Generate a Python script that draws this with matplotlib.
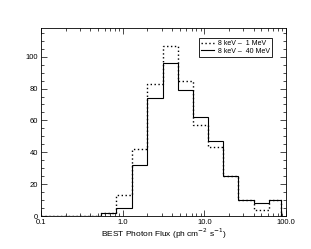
import numpy as np
from matplotlib import pyplot as plt
from matplotlib.ticker import MultipleLocator, LogLocator, NullFormatter

plt.rcParams['font.family'] = ['Liberation Sans', 'DejaVu Sans']

# bin edges (log spaced) and counts
edges = [0.1, 0.55, 0.84, 1.31, 2.0, 3.1, 4.75, 7.3, 11.2, 17.0, 26.0, 40.5, 62.0, 88.0]
low_band = [0, 2, 13, 42, 83, 107, 85, 57, 43, 25, 10, 4, 10]    # 8 keV - 1 MeV
full_band = [0, 2, 5, 32, 74, 96, 79, 62, 47, 25, 10, 8, 10]     # 8 keV - 40 MeV

fig = plt.figure(figsize=(3.11, 2.49), dpi=100)
ax = fig.add_axes([41 / 311, 1 - 216 / 249, 245 / 311, 188 / 249])

ax.stairs(low_band, edges, color='black', linestyle=(0, (1, 1.8)), linewidth=1.0,
          label='8 keV \u2013  1 MeV')
ax.stairs(full_band, edges, color='black', linestyle='-', linewidth=0.8,
          label='8 keV \u2013  40 MeV')

ax.set_xscale('log')
ax.set_xlim(0.1, 100)
ax.set_ylim(0, 118)
ax.set_xticks([0.1, 1, 10, 100])
ax.set_xticklabels(['0.1', '1.0', '10.0', '100.0'])
ax.xaxis.set_minor_locator(LogLocator(base=10, subs=np.arange(2, 10)))
ax.xaxis.set_minor_formatter(NullFormatter())
ax.yaxis.set_major_locator(MultipleLocator(20))
ax.yaxis.set_minor_locator(MultipleLocator(5))

ax.tick_params(which='both', direction='in', top=True, right=True, labelsize=5.5,
               width=0.5, pad=2)
ax.tick_params(which='major', length=4)
ax.tick_params(which='minor', length=2)
for s in ax.spines.values():
    s.set_linewidth(0.6)

ax.set_xlabel('BEST Photon Flux (ph cm$^{-2}$ s$^{-1}$)', fontsize=6, labelpad=0.5)

leg = ax.legend(loc='upper right', bbox_to_anchor=(0.943, 0.947), fontsize=5,
                frameon=True, fancybox=False, edgecolor='black', framealpha=1,
                borderpad=0.3, handlelength=1.9, handletextpad=0.6,
                labelspacing=0.1, borderaxespad=0)
leg.get_frame().set_linewidth(0.6)

plt.savefig('out.png', dpi=100)
